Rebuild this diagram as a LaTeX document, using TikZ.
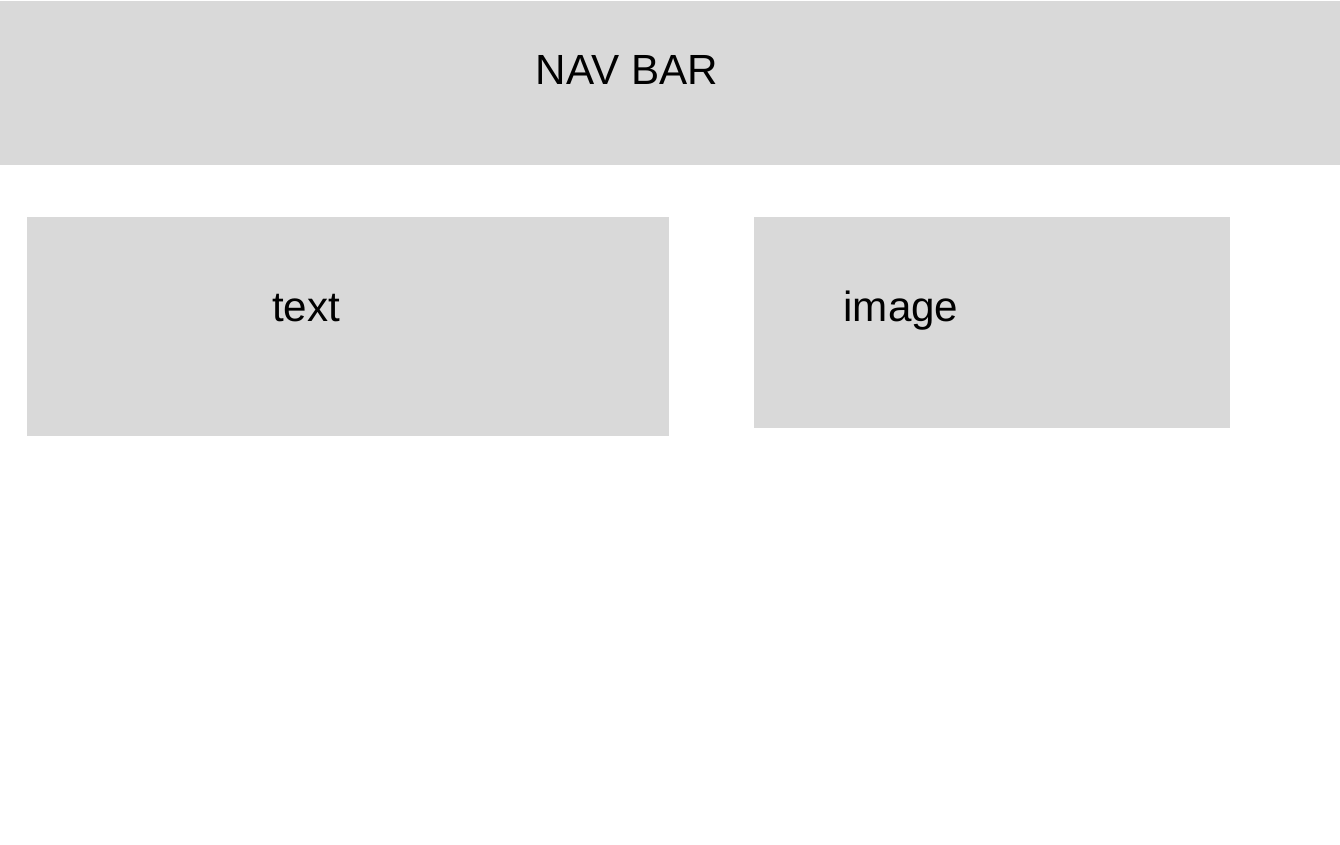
\documentclass[tikz,border=0pt]{standalone}
\usepackage{fontspec}
\setmainfont{Liberation Sans}
\usepackage{tikz}
\definecolor{boxgrey}{RGB}{217,217,217}
\tikzset{label/.style={anchor=base, font=\fontsize{24}{29}\selectfont}}

\begin{document}
\begin{tikzpicture}
\useasboundingbox (0,0) rectangle (26.8,16.9);
\fill [boxgrey] (0,13.6) rectangle (26.8,16.88);
\fill [boxgrey] (0.54,8.18) rectangle (13.38,12.56);
\fill [boxgrey] (15.08,8.34) rectangle (24.6,12.56);

\node [label] (navbar) at (12.54,15.2) {NAV BAR};
\node [label] (text) at (6.12,10.46) {text};
\node [label] (image) at (18.02,10.46) {image};

\end{tikzpicture}
\end{document}
